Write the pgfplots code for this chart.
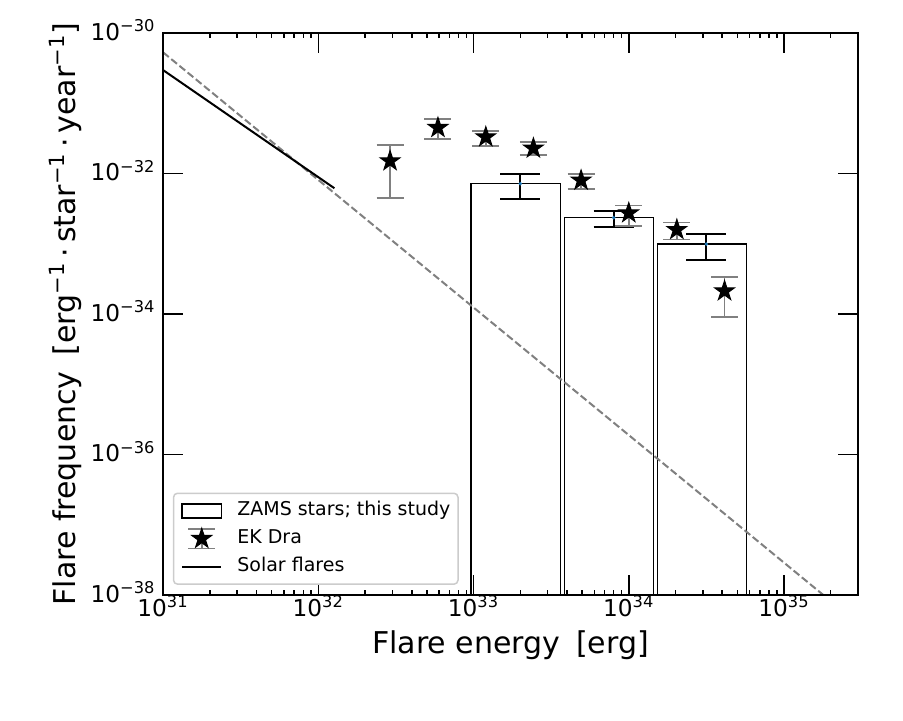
\documentclass[border=0pt]{standalone}
\usepackage{fontspec}
\setmainfont{DejaVu Sans}
\usepackage{pgfplots}
\pgfplotsset{compat=1.18}
\usepackage{pgfplotstable}
\definecolor{mplblue}{RGB}{31,119,180}
\definecolor{mplgray}{RGB}{128,128,128}
\definecolor{legedge}{RGB}{204,204,204}
\pgfdeclareplotmark{fstar}{%
  \pgfpathmoveto{\pgfpointpolar{90}{\pgfplotmarksize}}%
  \pgfpathlineto{\pgfpointpolar{126}{0.382\pgfplotmarksize}}%
  \pgfpathlineto{\pgfpointpolar{162}{\pgfplotmarksize}}%
  \pgfpathlineto{\pgfpointpolar{198}{0.382\pgfplotmarksize}}%
  \pgfpathlineto{\pgfpointpolar{234}{\pgfplotmarksize}}%
  \pgfpathlineto{\pgfpointpolar{270}{0.382\pgfplotmarksize}}%
  \pgfpathlineto{\pgfpointpolar{306}{\pgfplotmarksize}}%
  \pgfpathlineto{\pgfpointpolar{342}{0.382\pgfplotmarksize}}%
  \pgfpathlineto{\pgfpointpolar{18}{\pgfplotmarksize}}%
  \pgfpathlineto{\pgfpointpolar{54}{0.382\pgfplotmarksize}}%
  \pgfpathclose
  \pgfusepathqfillstroke}

% EK Dra: energy, frequency
\pgfplotstableread{
x y
2.9e32 1.507e-32
5.9e32 4.49e-32
1.2e33 3.31e-32
2.43e33 2.286e-32
4.93e33 8.0e-33
1.0e34 2.742e-33
2.04e34 1.585e-33
4.14e34 2.123e-34
}\ekdra

% ZAMS error bar centres
\pgfplotstableread{
x y
2.0e33 7.16e-33
8.0e33 2.35e-33
3.16e34 9.9e-34
}\zams

\begin{document}
\begin{tikzpicture}
\path[use as bounding box] (-81.5pt,-63pt) rectangle (370pt,297.5pt);
\begin{axis}[
  at={(0pt,0pt)}, anchor=south west,
  scale only axis, width=347.5pt, height=281pt,
  xmode=log, ymode=log,
  xmin=1e31, xmax=3e35, ymin=1e-38, ymax=1e-30,
  axis on top,
  unbounded coords=jump,
  axis line style={black, line width=0.75pt},
  tick align=inside,
  xtick pos=both, ytick pos=both,
  major tick length=10pt, minor tick length=2.7pt,
  every tick/.style={black, line width=0.75pt},
  xtick={1e31,1e32,1e33,1e34,1e35},
  xticklabels={10\textsuperscript{31},10\textsuperscript{32},10\textsuperscript{33},10\textsuperscript{34},10\textsuperscript{35}},
  minor xtick={2e31,3e31,4e31,5e31,6e31,7e31,8e31,9e31,
               2e32,3e32,4e32,5e32,6e32,7e32,8e32,9e32,
               2e33,3e33,4e33,5e33,6e33,7e33,8e33,9e33,
               2e34,3e34,4e34,5e34,6e34,7e34,8e34,9e34,2e35},
  ytick={1e-38,1e-36,1e-34,1e-32,1e-30},
  yticklabels={10\textsuperscript{−38},10\textsuperscript{−36},10\textsuperscript{−34},10\textsuperscript{−32},10\textsuperscript{−30}},
  minor ytick={},
  x tick label style={font=\fontsize{11.6}{13}\selectfont, anchor=base, inner sep=0pt, yshift=-10.8pt},
  y tick label style={font=\fontsize{11.6}{13}\selectfont, anchor=base east, inner sep=0pt, xshift=-3.6pt, yshift=-3.7pt},
  xlabel={Flare energy\hspace{0.53em}[erg]},
  ylabel={Flare frequency\hspace{0.53em}[erg\textsuperscript{−1}\,·\,star\textsuperscript{−1}\,·\,year\textsuperscript{−1}]},
  xlabel style={font=\fontsize{15}{18}\selectfont, at={([yshift=-29pt]axis description cs:0.5,0)}, anchor=base},
  ylabel style={font=\fontsize{15}{18}\selectfont, at={([xshift=-44pt]axis description cs:0,0.5)}, anchor=base, rotate=0},
  legend style={at={(0.014,0.018)}, anchor=south west, draw=legedge, line width=0.75pt,
    rounded corners=2pt, font=\fontsize{9.5}{12}\selectfont, inner sep=3.8pt,
    row sep=3.6pt, column sep=7.5pt,
    nodes={inner sep=0pt, text height=7.4pt, text depth=2.6pt}},
  legend cell align=left,
]
% bars
\addplot[forget plot, draw=black, fill=white, line width=0.75pt] coordinates {(9.66e32,1e-40) (9.66e32,7.16e-33) (3.64e33,7.16e-33) (3.64e33,1e-40)} --cycle;
\addplot[forget plot, draw=black, fill=white, line width=0.75pt] coordinates {(3.85e33,1e-40) (3.85e33,2.35e-33) (1.445e34,2.35e-33) (1.445e34,1e-40)} --cycle;
\addplot[forget plot, draw=black, fill=white, line width=0.75pt] coordinates {(1.53e34,1e-40) (1.53e34,9.9e-34) (5.75e34,9.9e-34) (5.75e34,1e-40)} --cycle;
% dashed power law
\addplot[forget plot, mplgray, line width=1pt, dash pattern=on 3.7pt off 1.6pt] coordinates {(1e31,5.31e-31) (3.162e35,3.57e-39)};
% solar flares
\addplot[forget plot, black, line width=1pt] coordinates {(1e31,2.97e-31) (1.27e32,6.17e-33)};
% ZAMS error bars (vertical bar and caps)
\addplot[forget plot, black, line width=1pt] coordinates {
 (2.0e33,4.41e-33) (2.0e33,9.91e-33) (nan,nan)
 (1.487e33,4.41e-33) (2.69e33,4.41e-33) (nan,nan)
 (1.487e33,9.91e-33) (2.69e33,9.91e-33) (nan,nan)
 (8.0e33,1.73e-33) (8.0e33,2.97e-33) (nan,nan)
 (5.948e33,1.73e-33) (1.076e34,1.73e-33) (nan,nan)
 (5.948e33,2.97e-33) (1.076e34,2.97e-33) (nan,nan)
 (3.16e34,5.9e-34) (3.16e34,1.39e-33) (nan,nan)
 (2.349e34,5.9e-34) (4.25e34,5.9e-34) (nan,nan)
 (2.349e34,1.39e-33) (4.25e34,1.39e-33)
};
\addplot[forget plot, only marks, mark=*, mark size=0.7pt, mplblue] table[x=x, y=y] {\zams};
% EK Dra error bars
\addplot[forget plot, mplgray, line width=0.85pt] coordinates {
 (2.9e32,4.44e-33) (2.9e32,2.57e-32) (nan,nan)
 (2.373e32,4.44e-33) (3.544e32,4.44e-33) (nan,nan)
 (2.373e32,2.57e-32) (3.544e32,2.57e-32) (nan,nan)
 (5.9e32,3.13e-32) (5.9e32,5.92e-32) (nan,nan)
 (4.828e32,3.13e-32) (7.21e32,3.13e-32) (nan,nan)
 (4.828e32,5.92e-32) (7.21e32,5.92e-32) (nan,nan)
 (1.2e33,2.45e-32) (1.2e33,4.07e-32) (nan,nan)
 (9.82e32,2.45e-32) (1.466e33,2.45e-32) (nan,nan)
 (9.82e32,4.07e-32) (1.466e33,4.07e-32) (nan,nan)
 (2.43e33,1.816e-32) (2.43e33,2.78e-32) (nan,nan)
 (1.989e33,1.816e-32) (2.969e33,1.816e-32) (nan,nan)
 (1.989e33,2.78e-32) (2.969e33,2.78e-32) (nan,nan)
 (4.93e33,6.01e-33) (4.93e33,9.93e-33) (nan,nan)
 (4.034e33,6.01e-33) (6.024e33,6.01e-33) (nan,nan)
 (4.034e33,9.93e-33) (6.024e33,9.93e-33) (nan,nan)
 (1.0e34,1.80e-33) (1.0e34,3.52e-33) (nan,nan)
 (8.183e33,1.80e-33) (1.222e34,1.80e-33) (nan,nan)
 (8.183e33,3.52e-33) (1.222e34,3.52e-33) (nan,nan)
 (2.04e34,1.145e-33) (2.04e34,2.015e-33) (nan,nan)
 (1.669e34,1.145e-33) (2.493e34,1.145e-33) (nan,nan)
 (1.669e34,2.015e-33) (2.493e34,2.015e-33) (nan,nan)
 (4.14e34,9.0e-35) (4.14e34,3.35e-34) (nan,nan)
 (3.388e34,9.0e-35) (5.059e34,9.0e-35) (nan,nan)
 (3.388e34,3.35e-34) (5.059e34,3.35e-34)
};
% EK Dra stars
\addplot[forget plot, only marks, mark=fstar, mark size=5.2pt, draw=black, fill=black, line width=0.5pt]
  table[x=x, y=y] {\ekdra};

\addlegendimage{legend image code/.code={\draw[sharp corners, black, line width=0.75pt, fill=white] (0pt,-3.5pt) rectangle (19.6pt,3.5pt);}}
\addlegendentry{ZAMS stars; this study}
\addlegendimage{legend image code/.code={%
  \draw[sharp corners, mplgray, line width=0.85pt] (9.8pt,-4.9pt) -- (9.8pt,4.9pt) (3.05pt,-4.9pt) -- (16.55pt,-4.9pt) (3.05pt,4.9pt) -- (16.55pt,4.9pt);
  \begin{scope}[shift={(9.8pt,0pt)}, draw=black, fill=black, line width=0.5pt, sharp corners]
  \pgfsetplotmarksize{5.2pt}\pgfuseplotmark{fstar}
  \end{scope}}}
\addlegendentry{EK Dra}
\addlegendimage{legend image code/.code={\draw[sharp corners, black, line width=1pt] (0pt,0pt) -- (19.6pt,0pt);}}
\addlegendentry{Solar flares}
\end{axis}
\end{tikzpicture}
\end{document}
